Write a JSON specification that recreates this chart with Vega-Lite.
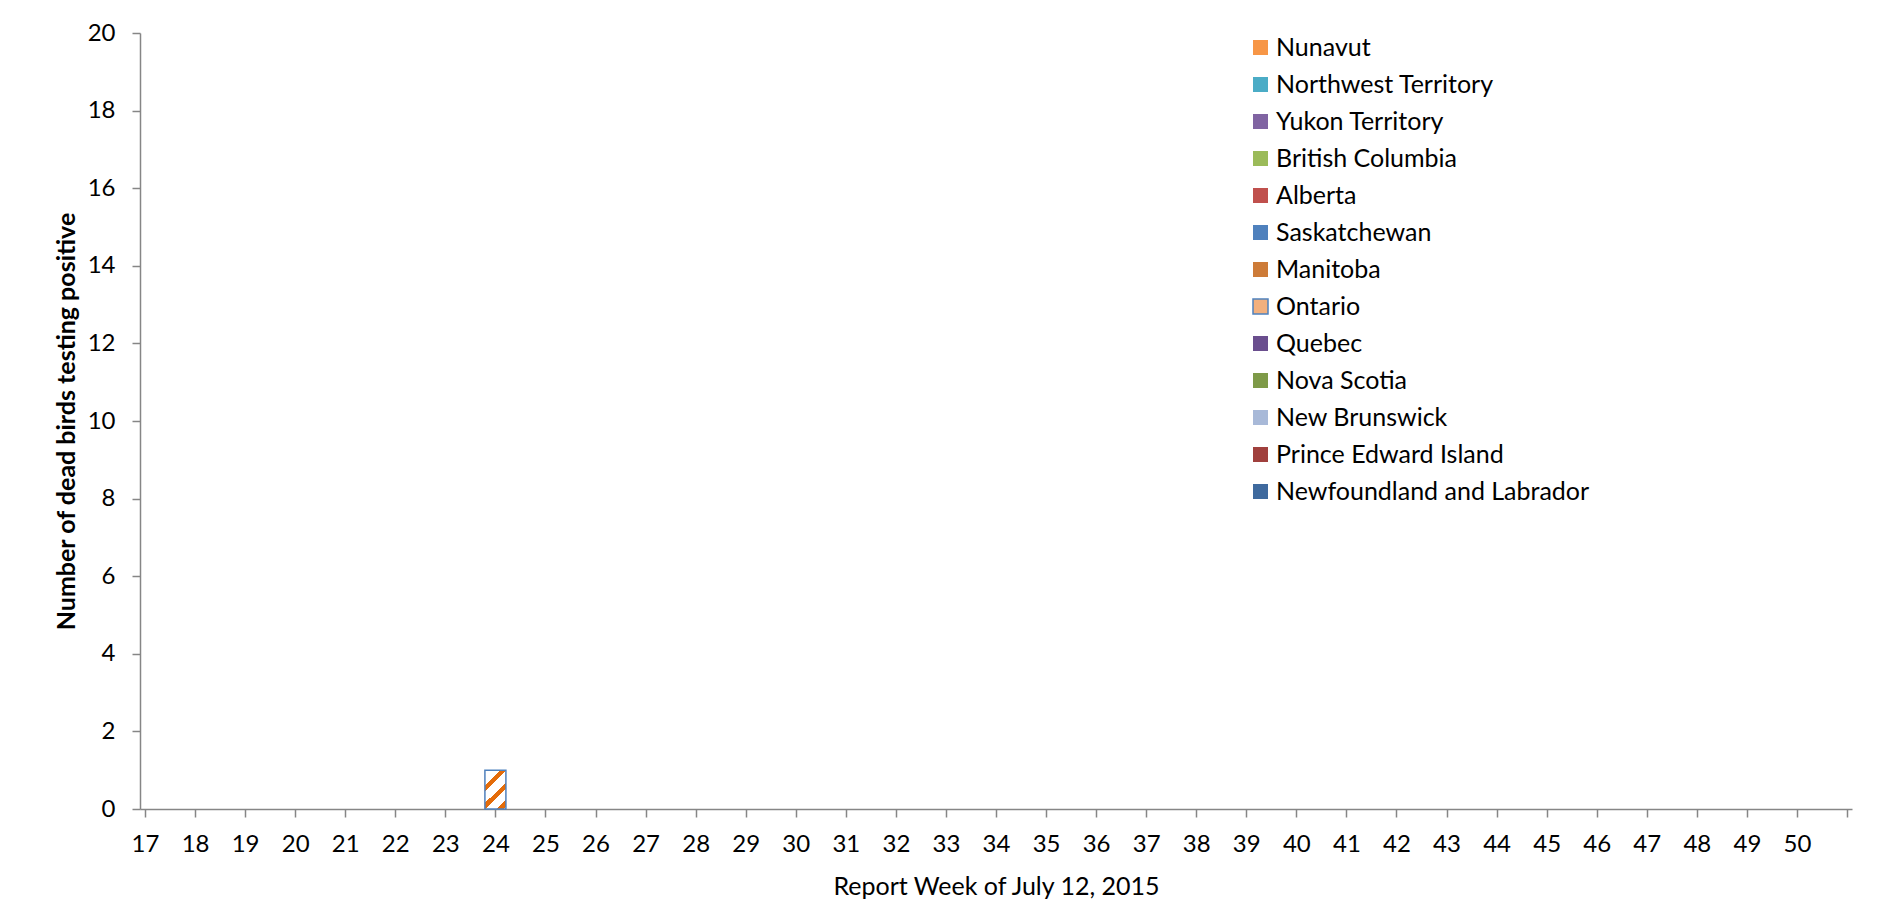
{
  "$schema": "https://vega.github.io/schema/vega-lite/v6.json",
  "autosize": {"type": "none"},
  "width": 1712,
  "height": 776,
  "padding": {"left": 140, "top": 33, "right": 38, "bottom": 108},
  "background": "white",
  "config": {
    "view": {"stroke": null},
    "font": "Lato",
    "axis": {
      "domainColor": "#868686",
      "domainWidth": 1.5,
      "tickColor": "#868686",
      "tickWidth": 1.5,
      "tickSize": 8,
      "labelFont": "Lato",
      "labelFontSize": 24,
      "labelColor": "#000000",
      "titleFont": "Lato",
      "titleFontSize": 25,
      "titleColor": "#000000",
      "grid": false
    },
    "legend": {
      "labelFont": "Lato",
      "labelFontSize": 25,
      "labelColor": "#000000",
      "labelLimit": 500,
      "padding": 0
    }
  },
  "data": {
    "values": [
      {"week": 24, "province": "Ontario", "count": 1}
    ]
  },
  "layer": [
    {
      "mark": {"type": "bar", "size": 21},
      "encoding": {
        "x": {
          "field": "week",
          "type": "quantitative",
          "scale": {"domain": [17, 51], "nice": false, "zero": false},
          "axis": {
            "title": "Report Week of July 12, 2015",
            "values": [17,18,19,20,21,22,23,24,25,26,27,28,29,30,31,32,33,34,35,36,37,38,39,40,41,42,43,44,45,46,47,48,49,50,51],
            "labelExpr": "datum.value == 51 ? '' : datum.label",
            "labelPadding": 15,
            "labelFlush": false,
            "labelOverlap": false,
            "titleFontWeight": "normal",
            "titlePadding": 18
          }
        },
        "y": {
          "field": "count",
          "type": "quantitative",
          "scale": {"domain": [0, 20], "nice": false},
          "axis": {
            "title": "Number of dead birds testing positive",
            "values": [0,2,4,6,8,10,12,14,16,18,20],
            "labelPadding": 17,
            "titleFontWeight": "bold",
            "titlePadding": 8
          }
        },
        "color": {
          "field": "province",
          "type": "nominal",
          "scale": {
            "domain": ["Nunavut", "Northwest Territory", "Yukon Territory", "British Columbia", "Alberta", "Saskatchewan", "Manitoba", "Ontario", "Quebec", "Nova Scotia", "New Brunswick", "Prince Edward Island", "Newfoundland and Labrador"],
            "range": ["#F79646", "#4BACC6", "#8064A2", "#9BBB59", "#C0504D", "#4F81BD", "#CD7B38", "#F2B07E", "#6A4E8E", "#7E9A48", "#A8B9D8", "#A0403D", "#3F6A9E"]
          },
          "legend": {
            "title": null,
            "orient": "none",
            "legendX": 1108,
            "legendY": 2,
            "symbolType": "square",
            "symbolSize": 225,
            "symbolStrokeWidth": 1.5,
            "rowPadding": 11,
            "labelOffset": 3,
            "encode": {
              "symbols": {
                "update": {
                  "stroke": {"signal": "datum.value === 'Ontario' ? '#4F81BD' : 'transparent'"}
                }
              }
            }
          }
        }
      }
    },
    {
      "mark": {
        "type": "bar",
        "size": 21,
        "stroke": "#4F81BD",
        "strokeWidth": 1.5,
        "fill": {
          "gradient": "linear",
          "x1": 0.001,
          "y1": 0.001,
          "x2": 0.642,
          "y2": 1.193,
          "stops": [
            {"offset": 0, "color": "#FFFFFF"},
            {"offset": 0.25, "color": "#FFFFFF"},
            {"offset": 0.25, "color": "#E46C0A"},
            {"offset": 0.36, "color": "#E46C0A"},
            {"offset": 0.36, "color": "#FFFFFF"},
            {"offset": 0.55, "color": "#FFFFFF"},
            {"offset": 0.55, "color": "#E46C0A"},
            {"offset": 0.66, "color": "#E46C0A"},
            {"offset": 0.66, "color": "#FFFFFF"},
            {"offset": 0.85, "color": "#FFFFFF"},
            {"offset": 0.85, "color": "#E46C0A"},
            {"offset": 0.96, "color": "#E46C0A"},
            {"offset": 0.96, "color": "#FFFFFF"},
            {"offset": 1, "color": "#FFFFFF"}
          ]
        }
      },
      "encoding": {
        "x": {"field": "week", "type": "quantitative"},
        "y": {"field": "count", "type": "quantitative"}
      }
    }
  ]
}
